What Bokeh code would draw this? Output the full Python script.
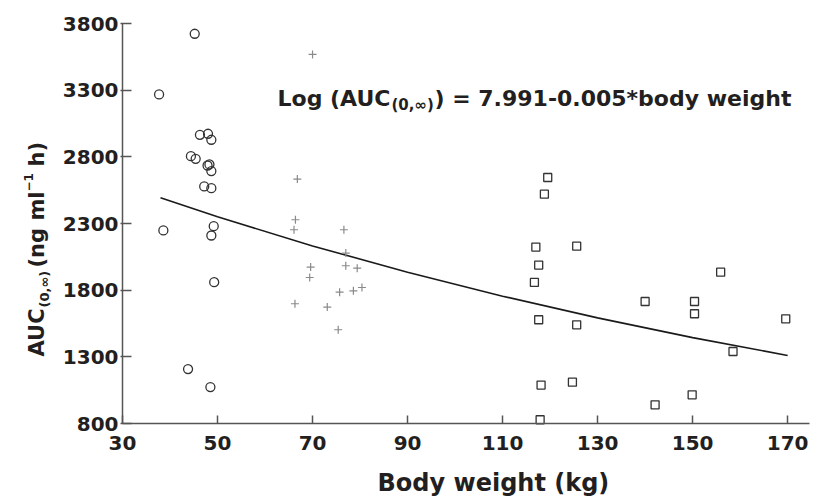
import math
from bokeh.plotting import figure
from bokeh.models import Range1d, FixedTicker, Label, LinearAxis
from bokeh.embed import file_html
from bokeh.resources import INLINE

# ---- data ----
circle_bw = [45.2, 37.7, 46.3, 48.0, 48.7, 44.4, 45.4, 47.9, 48.3, 48.7, 47.2, 48.7, 38.6, 49.2, 48.7, 49.3, 43.8, 48.5]
circle_auc = [3723, 3268, 2965, 2973, 2928, 2805, 2785, 2735, 2743, 2693, 2578, 2565, 2248, 2280, 2210, 1860, 1208, 1073]

plus_bw = [70.0, 66.8, 66.4, 66.1, 76.6, 77.0, 69.6, 77.0, 79.4, 69.4, 80.4, 78.6, 75.7, 66.3, 73.1, 75.4]
plus_auc = [3568, 2633, 2328, 2253, 2253, 2078, 1973, 1983, 1965, 1895, 1820, 1795, 1785, 1698, 1673, 1503]

square_bw = [119.5, 118.8, 117.0, 125.6, 117.6, 116.7, 155.9, 140.0, 150.4, 150.4, 169.6, 117.6, 125.6, 158.5, 118.1, 124.7, 149.9, 142.1, 117.9]
square_auc = [2645, 2520, 2123, 2130, 1988, 1858, 1935, 1715, 1715, 1623, 1585, 1578, 1540, 1340, 1088, 1110, 1015, 940, 828]

fit_bw = [38, 50, 70, 90, 110, 130, 150, 170]
fit_auc = [2493, 2350, 2132, 1934, 1755, 1592, 1444, 1310]

x_ticks = [30, 50, 70, 90, 110, 130, 150, 170]
y_ticks = [800, 1300, 1800, 2300, 2800, 3300, 3800]

x_title = "Body weight (kg)"
eq_main = "Log (AUC"
eq_sub = "(0,\u221e)"
eq_rest = ") = 7.991-0.005*body weight"
y_main1 = "AUC"
y_sub = "(0,\u221e)"
y_main2 = "(ng ml"
y_sup = "\u22121"
y_main3 = "h)"

# ---- layout: frame fills the canvas, axes are pinned inside it ----
W, H = 819, 496
AX_LEFT, AX_RIGHT, AX_TOP, AX_BOTTOM = 122, 809, 23, 423   # pixel extent of axes
X0, X1 = 30, 174.6
Y0, Y1 = 800, 3800
kx = (AX_RIGHT - AX_LEFT) / (X1 - X0)
ky = (AX_BOTTOM - AX_TOP) / (Y1 - Y0)
xr = Range1d(X0 - AX_LEFT / kx, X0 + (W - AX_LEFT) / kx)
yr = Range1d(Y0 - (H - AX_BOTTOM) / ky, Y1 + AX_TOP / ky)

p = figure(width=W, height=H, x_range=xr, y_range=yr,
           output_backend="svg", toolbar_location=None,
           x_axis_type=None, y_axis_type=None,
           min_border=0)
p.outline_line_color = None
p.background_fill_color = "white"
p.border_fill_color = "white"


def dx(px):
    return X0 + (px - AX_LEFT) / kx


def dy(py):
    return Y0 + (AX_BOTTOM - py) / ky


DARK = "#231f20"
AXC = "#555555"
FONT = "DejaVu Sans"

xaxis = LinearAxis(fixed_location=Y0, bounds=(X0, X1), ticker=FixedTicker(ticks=x_ticks))
yaxis = LinearAxis(fixed_location=X0, bounds=(Y0, Y1), ticker=FixedTicker(ticks=y_ticks))
for ax in (xaxis, yaxis):
    ax.axis_line_color = AXC
    ax.axis_line_width = 1.5
    ax.major_tick_line_color = AXC
    ax.major_tick_line_width = 1.5
    ax.minor_tick_line_color = None
    ax.major_label_text_font = FONT
    ax.major_label_text_font_size = "20px"
    ax.major_label_text_font_style = "bold"
    ax.major_label_text_color = DARK
xaxis.major_tick_in = 8
xaxis.major_tick_out = 0
xaxis.major_label_standoff = 12
yaxis.major_tick_in = 9
yaxis.major_tick_out = 2
yaxis.major_label_standoff = 2
p.add_layout(xaxis, "below")
p.add_layout(yaxis, "left")

# ---- marks ----
p.line(fit_bw, fit_auc, line_color="#1a1a1a", line_width=1.6)
p.scatter(circle_bw, circle_auc, marker="circle", size=9, fill_color=None,
          line_color="#333333", line_width=1.3)
p.scatter(plus_bw, plus_auc, marker="cross", size=8,
          line_color="#8a8a8a", line_width=1.2)
p.scatter(square_bw, square_auc, marker="square", size=8, fill_color=None,
          line_color="#333333", line_width=1.3)


def lab(text, px, py, size, angle=0.0):
    return Label(x=dx(px), y=dy(py), text=text, text_font=FONT,
                 text_font_size=f"{size}px", text_font_style="bold",
                 text_color=DARK, text_align="left", text_baseline="alphabetic",
                 angle=angle)

# ---- equation ----
p.add_layout(lab(eq_main, 277, 98, 22))
p.add_layout(lab(eq_sub, 391, 104, 15))
p.add_layout(lab(eq_rest, 434, 98, 22))

# ---- x title ----
p.add_layout(lab(x_title, 377, 482, 24))

# ---- y title (rotated, pieces with sub/superscript) ----
R = math.pi / 2
p.add_layout(lab(y_main1, 36, 356, 21, R))
p.add_layout(lab(y_sub, 44, 307, 13, R))
p.add_layout(lab(y_main2, 36, 267, 21, R))
p.add_layout(lab(y_sup, 28, 191, 12, R))
p.add_layout(lab(y_main3, 36, 166, 21, R))

open("out.html", "w").write(file_html(p, INLINE))
